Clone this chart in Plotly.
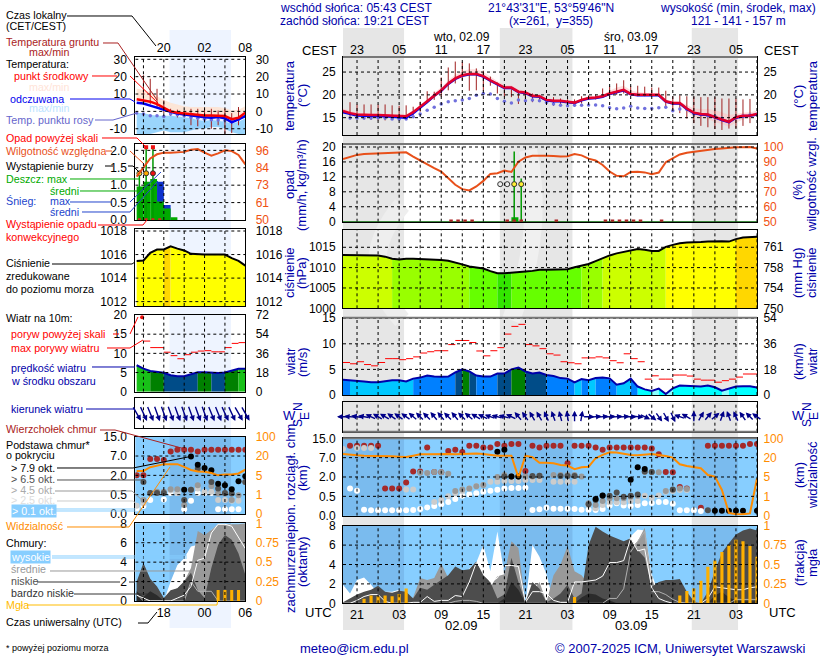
import numpy as np
import plotly.graph_objects as go

N = None
W, H = 820, 660
NAVY = "#0000AA"
SKY = "#87CEFF"
FONT = "Liberation Sans"
LABEL_SIZE = 10.7

# godziny UTC liczone od 00 UTC 02.09
hours = list(range(-5, 55))
hours_l = list(range(14, 31))
ticks_m = list(range(-3, 55, 6))
grid_m = list(range(-3, 55, 3))
ticks_l = [18, 24, 30]
grid_l = [15, 18, 21, 24, 27]
lt_m = ["23", "05", "11", "17", "23", "05", "11", "17", "23", "05"]
utc_m = ["21", "03", "09", "15", "21", "03", "09", "15", "21", "03"]
night_m = [(-5, 3.7), (17.35, 27.7), (44.7, 51.3)]
night_l = [(18.84, 27.9)]

# temperatura
t_mid = [16.5, 16.0, 15.7, 15.6, 15.6, 15.6, 15.5, 15.4, 15.3, 15.3,
         16.2, 17.4, 18.6, 20.0, 21.0, 22.5, 23.6, 24.3, 24.6, 24.6,
         24.1, 23.2, 22.4, 21.6, 21.6, 20.7, 20.5, 19.8, 19.7, 18.9,
         18.7, 18.7, 18.5, 18.3, 18.9, 19.3, 19.4, 19.7, 20.3, 20.7,
         21.1, 20.2, 20.0, 20.0, 20.0, 20.0, 18.6, 18.2, 18.2, 17.0,
         16.1, 15.8, 15.7, 15.1, 14.6, 14.1, 15.1, 15.4, 15.5, 15.8]
t_app = [16.2, 15.8, 15.5, 15.4, 15.4, 15.3, 15.3, 15.2, 15.1, 15.0,
         16.0, 17.1, 18.4, 19.8, 20.9, 22.4, 23.5, 24.2, 24.5, 24.5,
         24.0, 23.1, 22.3, 21.5, 21.5, 20.6, 20.4, 19.7, 19.6, 18.8,
         18.6, 18.6, 18.4, 18.2, 18.8, 19.2, 19.3, 19.6, 20.2, 20.6,
         21.0, 20.1, 19.9, 19.9, 19.9, 19.9, 18.5, 18.1, 18.1, 16.9,
         16.0, 15.7, 15.6, 15.0, 14.5, 14.0, 15.0, 15.3, 15.4, 15.7]
t_max = [17, 16.5, 16, 16, 15.9, 15.9, 15.8, 15.7, 15.7, 15.7,
         16.6, 17.7, 19, 20.5, 21.6, 23.2, 24.4, 25.2, 25.6, 25.6,
         25, 24, 23, 22.2, 22.1, 21.2, 20.9, 20.2, 20.1, 19.3,
         19, 19, 18.8, 18.6, 19.2, 19.6, 19.7, 20.1, 20.9, 21.6,
         22, 21, 20.6, 20.4, 20.3, 20.3, 19, 18.6, 18.5, 17.8,
         17, 16.9, 16.9, 16.6, 16.2, 15.6, 15.9, 16.1, 16.2, 16.5]
t_min = [16.1, 15.6, 15.3, 15.2, 15.2, 15.2, 15.1, 15, 14.9, 14.9,
         15.9, 17.1, 18.3, 19.7, 20.6, 22.1, 23.1, 23.8, 24.2, 24.2,
         23.7, 22.9, 22.1, 21.3, 21.2, 20.4, 20.2, 19.5, 19.4, 18.6,
         18.4, 18.4, 18.2, 18, 18.6, 19, 19.1, 19.4, 20, 20.3,
         20.6, 19.9, 19.7, 19.7, 19.7, 19.7, 18.3, 17.8, 17.8, 16.3,
         15.2, 14.9, 14.7, 14, 13.6, 13, 13.9, 14.6, 14.9, 15.3]
t_dew = [N, 14.9, 14.9, 14.9, 14.9, 15.0, 14.9, 14.7, 14.7, 14.7,
         15.2, 15.8, 16.6, 17.3, 18.0, 18.5, 18.7, 18.9, 19.2, 19.9,
         20.3, 20.2, 19.2, 18.6, 18.2, 18.9, 18.7, 18.9, 18.7, 18.3,
         18.0, 17.7, 17.6, 17.7, 17.7, 17.8, 17.8, 17.6, 17.2, 16.95,
         17.1, 17.5, 17.1, 17.0, 17.0, 17.2, 17.3, 16.5, 16.9, 16.85,
         15.8, 15.7, 15.4, 15.3, 14.85, 14.1, 15.1, 15.4, 15.6, 15.8]
g_max = [N, 18.4, 17.9, 17.9, 17.9, 17.9, 17.9, 17.7, 17.6, 17.7,
         17.4, 18.5, 20.8, 20.7, 23.8, 26, 27.3, 27.2, 26.9, 25.8,
         25.3, 24, 22.7, 21.9, 21.2, 20.6, 20.9, 20.3, 20, 19.6,
         19.5, 19.2, 19, 19, 19.7, 19.9, 20.1, 21.4, 21.9, 22.5,
         23.2, 21.9, 22, 21.8, 21.6, 21.6, 20.9, 19.7, 19.9, 19.7,
         19.6, 19.5, 19.5, 19.5, 19.2, 19.2, 19.2, 19, 19.1, N]
g_min = [N, 14.6, 14.6, 14.6, 14.5, 14.4, 14.4, 14.5, 14.5, 14.5,
         15.6, 16.3, 18.6, 18.9, 19.6, 21, 22.5, 23.2, 20.9, 21,
         20.9, 22, 20.3, 19.6, 19.5, 18, 18.9, 18.4, 18.9, 17.8,
         17.6, 18, 18, 17.4, 18.1, 18.9, 19, 19.5, 19.6, 20,
         20.3, 20, 19.7, 19.7, 19.7, 19.6, 17.4, 16.7, 16, 14.8,
         13.8, 13.2, 12.9, 12.5, 12.3, 12.6, 12.7, 13.2, 13.8, N]

t_mid_l = [7.0, 6.5, 5.6, 4.2, 1.9, 0.0, -0.8, -1.2, -1.9, -2.1, -2.3, -2.3, -2.5, -2.7, -4.5, -3.7, -0.8]
t_app_l = [5.0, 4.5, 3.3, 2.0, 0.7, -0.2, -1.3, -1.8, -2.6, -3.0, -3.4, -3.6, -3.3, -3.9, -6.3, -4.6, -2.7]
t_max_l = [13, 12.5, 11, 8.6, 6.5, 5, 4, 3, 2.5, 2.5, 2.5, 2.5, 2.5, 2, 0.5, 1, 3]
t_app_max_l = [-1, -1, -2, -2.5, -2.5, -2.5, -3, -3.5, -4, -5, -5.5, -5, -5.5, -6, -7, -6, -4]
t_app_min_l = [-13.2, -13.2, -13, -12, -11, -12, -12, -12, -11, -10, -10, -9, -9, -10, -12, -13, -13]
t_dew_l = [-1, -1.5, -2.5, -2.5, -3, -1.5, -2, -2.5, -3.5, -4, -4.5, -4.8, -5, -5.2, -5.8, -4.5, -2.8]
g_max_l = [N, 20.8, 18.8, 13, 6.3, 1.5, 1, 0.5, 1.5, 1.5, 1.5, 1.5, 0.5, 1.5, -1, 2.5, 0]
g_min_l = [N, 6, 4, 2.5, -1, -2.5, -3.5, -3.5, -8, -8.6, -6.3, -10, -8, -12.9, -12.5, -8, -1.5]

# opad i wilgotność
rh = [92, 93.6, 94.7, 95.3, 95.5, 95.8, 95.8, 96, 96.2, 96.4,
      93.6, 90.9, 88, 85.8, 83.6, 79, 74.7, 71.8, 70.9, 73.6,
      77.3, 82, 82.4, 84.2, 83.3, 90.2, 93, 94.2, 94.4, 94.2,
      94, 93.6, 93.8, 95.3, 94.4, 92.2, 91, 88, 83.6, 80.7,
      80.4, 83.3, 83.5, 83, 81.8, 82.9, 89.8, 92.4, 95, 96.2,
      96.9, 97.6, 98, 98.7, 99, 99.6, 99.8, 99.8, 100, 99]
rain_h = [19.5]
rain_val = [1.2]
rain_max_h = [19.4, 20.4]
rain_max_val = [18.7, 11.5]
storm_h = [17.4, 18.4, 19.4, 20.4]
storm_val = [10, 10, 10, 10]
storm_col = ["#EEEEEE", "#EEEEEE", "#FFEE33", "#FFEE33"]
conv_h = [10.4, 11.4, 12.4, 13.4, 18.4, 19.4, 20.4, 25.4, 32.4, 33.4, 34.4, 35.4, 36.4, 37.4, 40.4]

rh_l = [78.6, 84.4, 90.7, 93.4, 94.5, 94.5, 94.5, 95, 96.4, 96.9, 94.5, 92.5, 94, 96, 95.5, 93, 86.8]
rain_h_l = [14.5, 15.5, 16.5, 17.5, 18.5, 19.5]
rain_val_l = [0.96, 1.1, 1.18, 0.53, 0.33, 0.08]
snow_val_l = [0, 0, 0, 1.1, 0.43, 0]
spike_h_l = [14.4, 15.4, 16.4]
spike_val_l = [1.34, 2.05, 2.05]
over_h_l = [15.4, 16.4]
over_val_l = [2.09, 2.09]
storm_val_l = [1.34, 1.34, 1.34]
storm_col_l = ["#FFEE33", "#FFAA00", "#EE1111"]
conv_h_l = [14.4, 15.4, 16.4, 17.4]

# ciśnienie
press = [1013.1, 1013.1, 1013.1, 1013.05, 1013.05, 1013, 1012.7, 1012.2, 1012, 1012.2,
         1012.2, 1012.15, 1012, 1012, 1011.9, 1011.7, 1011.3, 1010.8, 1010.3, 1010.1,
         1009.8, 1009.15, 1008.6, 1008.6, 1008.7, 1008.9, 1009.05, 1009.2, 1009.5, 1009.5,
         1009.5, 1009.5, 1009.6, 1010.1, 1010.5, 1010.9, 1011.6, 1012.3, 1013, 1013.5,
         1013.9, 1014.3, 1014.6, 1014.4, 1014.1, 1014.1, 1015.1, 1015.6, 1016, 1016.2,
         1016.2, 1016.3, 1016.4, 1016.5, 1016.5, 1016.4, 1017, 1017.4, 1017.5, 1017.6]
press_l = [1015.46, 1015.5, 1016.14, 1016.43, 1016.43, 1016.7, 1016.5, 1016.35, 1016.06,
           1016, 1016, 1016, 1016, 1016, 1015.7, 1015.46, 1015.06]
press_bins = [1008.65, 1010.4, 1012.25, 1015, 1016.6]
press_cols = ["#33E600", "#66FF00", "#99FF00", "#CCFF00", "#FFFF00", "#FFD700"]

# wiatr
wind = [3.0, 2.9, 2.85, 2.65, 2.5, 2.5, 2.7, 2.9, 2.9, 2.65,
        3.2, 3.4, 3.8, 3.6, 3.55, 3.6, 4.4, 5.0, 4.6, 3.8,
        3.6, 3.6, 4.2, 4.2, 5.0, 5.35, 4.6, 4.2, 4.4, 3.9,
        3.7, 3.3, 3.2, 2.45, 3.1, 2.9, 3.3, 3.4, 3.25, 2.0,
        2.3, 3.2, 1.65, 1.1, 0.8, 1.25, 0.2, 1.3, 1.85, 1.8,
        1.65, 1.65, 1.85, 1.5, 0.85, 1.2, 1.65, 1.7, 1.7, 1.45]
gust = [6.35, 6.1, 6.5, 5.95, 5.7, 6.35, 7.1, 7.1, 6.9, 7.1,
        7.45, 8.2, 8.45, 8.65, 8.65, 9.85, 10.65, 10.65, 10.25, 8.6,
        7.65, 8.65, 9.25, 11.9, 13.4, 13.8, 9.85, 9.6, 9.05, 8.05,
        7.8, 6.5, 6.3, 6.1, 7.25, 7.25, 7.45, 7.25, 6.7, 6.3,
        8.05, 7.1, 6.5, 3.1, 3.75, 3.1, 3.1, 3.9, 3.9, 3.7,
        3.1, 2.9, 2.9, 2.5, 2.8, 3.1, 3.5, 4.1, 4.1]
wind_l = [6.9, 6.0, 5.4, 5.2, 4.95, 4.3, 4.05, 4.05, 4.5, 5.05, 5.05, 4.9, 4.9, 5.0, 5.4, 6.0, 6.0]
gust_l = [N, 13.2, 11.5, 11.5, 10.3, 9.4, 8.6, 9.65, 10.3, 10.6, 10.7, 10.4, 10.4, 11.5, 12.6, 12.8]
gust_over_h = [14.8]
gust_over_val = [19.4]
wind_bins = [1, 2, 3, 4, 5, 6]
wind_cols = ["#88FFFF", "#00FFFF", "#00C8FF", "#0080FF", "#004C88", "#008000", "#18C018"]
wind_dir = [270, 275, 280, 280, 295, 300, 300, 305, 305, 305,
            310, 315, 315, 320, 320, 315, 320, 315, 310, 300,
            295, 290, 285, 285, 295, 320, 325, 330, 330, 335,
            340, 345, 350, 0, 10, 90, 85, 85, 85, 85,
            85, 90, 95, 115, 130, 145, 150, 155, 290, 300,
            0, 30, 40, 50, 20, 340, 335, 325, 315, 305]
wind_dir_l = [150, 155, 158, 160, 160, 160, 160, 160, 160, 160, 160, 158, 158, 155, 155, 150, 150]

# podstawa chmur: pozycja na osi nieliniowej 0=0, 1=0.5, 2=2, 3=7, 4=15 km
cb_top = [N, 3.62, 3.62, 3.62, 3.62, 3.62, 1.4, 1.4, 1.4, 1.72,
          2.29, 2.29, 3.53, 2.26, 2.24, 3.34, 3.41, 3.29, 3.62, 3.62,
          3.53, 3.53, 3.71, 3.62, 3.71, 3.71, 2.31, 3.62, 3.53, 3.62,
          3.62, 3.62, 2.71, 3.62, 3.62, 3.62, 3.53, 3.41, 3.53, 3.53,
          3.53, 3.53, 3.53, 3.53, 3.47, 3.17, 2.26, 2.24, 1.48, 1.41,
          N, 0.41, 3.62, 3.62, 3.62, 3.62, 3.62, 3.62, 3.71, 3.71]
cb_01 = [N, 1.41, 1.29, .31, .28, .28, .28, .28, .28, .28,
         .29, .34, .43, .5, .59, .71, .86, 1.03, 1.1, 1.16,
         1.24, 1.29, 1.34, 1.41, 1.43, 1.43, 1.45, .29, .33, .41,
         .36, .36, .36, .34, .31, .31, .29, .34, .53, .64,
         .53, .5, .55, .64, .66, .71, .71, .62, .28, .28,
         .28, .24, N, N, N, N, N, N, N, N]
cb_25 = [3.45, N, 3.5, 3.5, 3.5, N, N, N, N, 1.36,
         1.36, N, N, .71, .81, 1, 1.16, 1.28, 1.41, 1.52,
         1.59, 1.76, 1.76, 1.79, 1.79, 1.79, 1.84, 1.84, 1.84, N,
         1.76, 1.76, 1.76, 1.76, N, .55, .38, .55, .69, .69,
         .69, .76, .76, 1.03, .93, 1.05, 1.24, 1.28, 1.33, 1.33,
         N, N, N, N, N, N, N, N, N, N]
cb_45 = [N, N, N, N, N, N, N, N, N, N,
         N, 2.22, 2.21, 2.26, 2.24, 2.17, 1.28, 1.36, 1.41, 1.52,
         1.59, N, 2, 2.1, 2.02, 2.02, 2.02, 2.02, 2.07, N,
         2.1, 2.1, 2.1, 2.1, 2.02, .64, .55, .76, .9, .9,
         .9, .98, 1.03, 2.26, 2.26, 2.24, 1.28, 1.33, 1.41, 1.38,
         N, N, N, N, N, N, N, N, N, N]
cb_65_h = [18, 19, 20, 22, 23, 26, 27, 28, 30, 31, 32, 33, 34, 35, 36, 37, 38, 39, 42, 47]
cb_65 = [2.02, 2.02, 2.02, 2.05, 2.07, 2.05, 2.05, 2.05, .59, .81, 1.03, 1.03, 1.2, .98, 1.03, 1.1, 2.28, 2.26, 1.36, .28]
cb_79_h = [17, 18, 19, 20, 31, 32, 36, 37, 38, 48, 49, 50, 51, 52, 54]
cb_79 = [3.3, 3.41, 2.02, 2.02, .86, 1.05, 1.86, 2.5, 2.41, .26, .26, .26, .26, .26, .26]
vis = [3.19, 3.14, 3.12, 3.1, 3.1, 3.1, 3.1, 3.07, 3.05, 3.03,
       3.1, 3.17, 3.18, 3.19, 3.19, 3.19, 3.17, 3.19, 3.22, 3.22,
       3.19, 3.14, 3.1, 3.1, 3.1, 1.97, 3.1, 3.02, 2.74, 2.74,
       2.71, 2.62, 2.59, 2.4, 2.5, 2.53, 2.97, 3.14, 3.28, 3.26,
       3.19, 3.14, 3.12, 3.14, 3.19, 3.14, 3.09, 3.0, 2.66, 2.57,
       2.5, 2.45, 2.1, 2.02, 1.33, .14, .07, .07, .12, 1.93]

cb_top_l = [2, 2, 2.85, 2.85, 2.8, 3.23, 3.33, 3.33, 3.33, 3.23, 3.33, 3.33, 3.33, 3.33, 3.33, 3.33, 3.33]
cb_79_l = [N, N, N, N, N, N, N, 1.26, 2.97, 2.55, 2.38, 2.26, 1.57, 1.49, 1.28, 1.69, 1.95]
cb_65_l = [N, 1.66, 1.09, 1.09, 1.09, N, N, .72, 1.26, 2.34, N, 1.66, 1.32, 1.09, 1.06, N, 1.66]
cb_45_l = [N, .72, 1.09, 1.15, 1.15, 1.28, 1.28, .46, 1.26, 1.49, N, 1.45, 1.06, 1.06, .72, .97, 1.66]
cb_25_l = [.43, .55, N, N, N, 1.23, 1.09, N, N, 1.32, 1.15, 1.15, .72, .72, .68, .68, N]
cb_01_l = [.29, .41, .72, N, .75, 1.09, 1.09, .24, .68, 1.09, 1.09, 1.09, .24, .24, .24, .24, N]
vis_l = [2.22, 2.22, 2.42, 2.5, 2.58, 2.58, 2.58, 2.44, 2.28, 2.2, 2.18, 2.12, 2.0, 2.05, 2.05, 2.1, 2.29]

# zachmurzenie (oktanty) i mgła
cl_high = [1.9, 1.0, 2.4, 2.65, 1.9, 1.0, 1.2, 1.2, 1.4, 0.5,
           0.15, 0.1, 0.1, 0.1, 0.1, 0.3, 0.5, 0.5, 3.6, 4.2,
           6.0, 3.3, 7.4, 3.0, 1.0, 0.5, 0.0, 6.0, 4.8, 3.0,
           0.1, 0.1, 0.1, 0.1, 0.1, 0.1, 0.1, 0.1, 0.1, 5.0,
           5.6, 6.9, 7.6, 7.5, 3.0, 1.0, 0, 0, 0, 0,
           0, 0, 0, 0, 0, 0, 0, 0, 0, 0]
cl_mid = [0, 0, 0, 0, 0, 0, 0, 0, 0, 0.3,
          0.6, 2.6, 2.4, 2.6, 4.1, 2.6, 2.2, 2.0, 1.5, 1.0,
          1.0, 1.7, 2.8, 3.0, 6.4, 5.7, 0.1, 1.2, 2.2, 0.1,
          2.9, 4.0, 5.9, 3.3, 2.9, 2.0, 1.0, 1.0, 1.0, 2.9,
          4.6, 5.7, 6.4, 7.8, 2.6, 0.5, 0, 0, 0, 0,
          0, 0, 0, 0, 0, 0, 0, 0, 0, 0]
cl_low = [0.1, 0.5, 0.9, 1.2, 1.4, 1.8, 1.2, 1.1, 1.3, 1.2,
          0.5, 1.6, 1.4, 1.9, 2.4, 2.9, 3.8, 3.4, 3.5, 4.3,
          2.9, 2.2, 0.5, 0.9, 4.7, 2.2, 0.1, 2.2, 1.5, 0.1,
          0.5, 1.0, 1.9, 0.5, 1.0, 6.0, 7.9, 7.4, 7.0, 6.7,
          6.4, 6.7, 5.5, 4.7, 1.7, 2.2, 2.4, 2.4, 2.5, 1.2,
          0.2, 0, 1.2, 3.3, 5.2, 6.2, 7.1, 7.5, 7.7, 7.5]
cl_vlow = [0, 0, 0, 0, 0, 0, 0, 0, 0, 0,
           0, 0, 0, 0, 0, 0, 0, 0, 0, 0,
           0, 0, 0, 0.5, 2.2, 1.4, 0, 0, 0, 0,
           0, 0, 0, 0, 0.6, 1.0, 0.9, 0.5, 0.3, 0,
           0, 0, 0, 0, 0, 0, 0, 0, 0, 0,
           0, 0, 0, 0.8, 1.2, 0.6, 0.3, 0.2, 0.2, 0.2]
ln_high = [0, 0, 0.3, 0.7, 0.9, 0.9, 0.2, 0, 0, 0,
           0.1, 0.1, 0.7, 0.2, 0.3, 0.3, 0.8, 0.7, 2.2, 4.2,
           3.3, 2.2, 2.6, 3.9, 3.9, 3.8, 0.1, 1.2, 1.2, 1.0,
           0.3, 0.1, 0.1, 2.2, 2.2, 2.3, 2.4, 2.8, 4.2, 4.2,
           4.4, 6.7, 5.4, 5.6, 1.6, 0.5, 0.2, 0, 0, 0,
           0, 0, 0.5, 1.7, 1.6, 1.5, 1.4, 1.4, 1.6, 1.7]
ln_mid = [0, 0, 0, 0, 0, 0, 0, 0, 0, 0,
          0, 0, 0, 0, 0, 0, 0.2, 0.3, 0.3, 0.2,
          0, 0, 0, 0, 0, 0, 0, 0, 0, 0,
          0, 0, 0, 0, 0, 0, 0, 0, 0.5, 0.5,
          1.5, 5.3, 6.4, 7.4, 1.2, 1.2, 0.9, 0.4, 0.1, 0,
          0, 0, 0, 0, 0, 0, 0.4, 0.4, 0.4, 0.4]
fog_h = [-2, -1, 0, 1, 2, 3, 4, 28, 43, 44, 45, 46, 47, 48, 49, 50, 51, 52, 53, 54]
fog = [.06, .1, .09, .1, .09, .12, .19, .08, .1, .16, .19, .29, .47, .55, .66, .75, .82, .8, .74, .6]

cl_high_l = [0, 0, 0, 0, 0, 2, 3.7, 4.4, 5.6, 5.8, 6.1, 7.3, 7.9, 7.9, 7.9, 6.8, 6.0]
cl_mid_l = [0, 0, 0, 0, 0, 1, 1.3, 2, 3.4, 7.2, 6.8, 7.3, 7.9, 7.9, 7.9, 7.9, 8]
cl_low_l = [2, 3.9, 2.3, 1.5, .3, 1.1, 1.3, 2, 2.9, 1.1, .3, 3.4, 5.8, 6.8, 6.3, 4.9, 2.7]
cl_vlow_l = [1, .4, 1, .6, 0, 0, 0, 0, 0, 0, 0, 0, 0, 0, 0, 0, 0]
ln_high_l = [.6, .3, 0, 0, 0, 0, .3, .6, 1.5, 4.2, 4.4, 7.0, 7.9, 7.9, 7.7, 6.6, 5.4]
ln_mid_l = [.7, 0, 0, 0, 0, 0, 0, 0, 2, 1, 1, 1, 0, 0, 0, 0, 0]
fog_h_l = [26, 27, 28, 29]
fog_l = [.14, .14, .14, .14]

# opisy: (tekst, x, y, kolor)
labels_left = [
    ("Czas lokalny", 5, 15, "#000000"), ("(CET/CEST)", 5, 26, "#000000"),
    ("Temperatura gruntu", 5, 42, "#AA2222"), ("max/min", 28, 52, "#AA2222"),
    ("Temperatura:", 5, 64, "#000000"), ("punkt środkowy", 13, 76, "#FF0000"),
    ("max/min", 28, 87, "#FFE4D8"), ("odczuwana", 9, 99, "#0000EE"),
    ("max/min", 28, 108, "#BBE4FF"), ("Temp. punktu rosy", 5, 120, "#6666CC"),
    ("Opad powyżej skali", 5, 138, "#FF0000"), ("Wilgotność względna", 5, 151, "#E8501A"),
    ("Wystąpienie burzy", 5, 166, "#000000"), ("Deszcz: max", 5, 179, "#00AA00"),
    ("średni", 49, 191, "#00AA00"), ("Śnieg:", 5, 201, "#2244CC"), ("max", 49, 201, "#2244CC"),
    ("średni", 49, 212, "#2244CC"), ("Wystąpienie opadu", 5, 224, "#FF0000"),
    ("konwekcyjnego", 5, 237, "#FF0000"), ("Ciśnienie", 5, 263, "#000000"),
    ("zredukowane", 5, 276, "#000000"), ("do poziomu morza", 5, 289, "#000000"),
    ("Wiatr na 10m:", 5, 318, "#000000"), ("poryw powyżej skali", 10, 334, "#FF0000"),
    ("max porywy wiatru", 10, 348, "#FF0000"), ("prędkość wiatru", 10, 368, NAVY),
    ("w środku obszaru", 10, 381, NAVY), ("kierunek wiatru", 10, 409, NAVY),
    ("Wierzchołek chmur", 5, 429, "#AA2222"), ("Podstawa chmur*", 5, 445, "#000000"),
    ("o pokryciu", 5, 455, "#000000"), ("> 7.9 okt.", 10, 468, "#000000"),
    ("> 6.5 okt.", 10, 479, "#505050"), ("> 4.5 okt.", 10, 490, "#AAAAAA"),
    ("> 2.5 okt.", 10, 500, "#DDDDDD"), ("Widzialność", 5, 526, "#FF8C00"),
    ("Chmury:", 5, 543, "#000000"), ("średnie", 10, 569, "#999999"),
    ("niskie", 10, 581, "#505050"), ("bardzo niskie", 10, 593, "#333333"),
    ("Mgła", 5, 605, "#FFBB00"), ("Czas uniwersalny (UTC)", 5, 622, "#000000"),
]
labels_box = [("> 0.1 okt.", 11, 511), ("wysokie", 10, 557)]
# linie odniesienia: (kolor, [(x, y), ...])
leaders = [
    ("#000000", [(67, 16), (132, 16), (156, 46)]),
    ("#AA2222", [(103, 43), (118, 43), (157, 100)]),
    ("#FF0000", [(92, 76), (117, 76)]),
    ("#FF0000", [(130, 76), (158, 103)]),
    ("#0000EE", [(70, 99), (130, 99), (135, 102)]),
    ("#6666CC", [(95, 120), (113, 120), (137, 113)]),
    ("#FF0000", [(102, 138), (137, 138), (146, 147)]),
    ("#E8501A", [(106, 151), (112, 151)]),
    ("#E8501A", [(130, 151), (143, 163)]),
    ("#000000", [(105, 166), (113, 166)]),
    ("#000000", [(128, 166), (133, 166), (139, 172)]),
    ("#00AA00", [(70, 179), (140, 179)]),
    ("#00AA00", [(80, 191), (143, 191)]),
    ("#2244CC", [(70, 202), (112, 202)]),
    ("#2244CC", [(130, 202), (161, 172)]),
    ("#2244CC", [(82, 212), (130, 212), (158, 181)]),
    ("#FF0000", [(98, 225), (143, 225), (147, 220)]),
    ("#000000", [(52, 264), (132, 264), (135, 262)]),
    ("#FF0000", [(113, 334), (119, 334)]),
    ("#FF0000", [(130, 334), (138, 317)]),
    ("#FF0000", [(107, 348), (130, 348), (143, 340)]),
    (NAVY, [(92, 367), (135, 367)]),
    (NAVY, [(86, 409), (135, 409)]),
    ("#AA2222", [(100, 430), (115, 430), (185, 449)]),
    ("#000000", [(57, 468), (133, 468), (193, 456)]),
    ("#505050", [(57, 480), (143, 480)]),
    ("#999999", [(55, 491), (132, 491), (142, 500)]),
    ("#CCCCCC", [(57, 501), (133, 501), (138, 505)]),
    (SKY, [(55, 509), (135, 509)]),
    (SKY, [(55, 511), (135, 511)]),
    ("#FF8C00", [(67, 527), (129, 527), (170, 467)]),
    (SKY, [(52, 556), (187, 556)]),
    (SKY, [(52, 558), (187, 558)]),
    ("#999999", [(50, 571), (193, 571)]),
    ("#333333", [(37, 582), (120, 582)]),
    ("#333333", [(129, 582), (135, 582)]),
    ("#333333", [(74, 594), (147, 594)]),
    ("#FFBB00", [(27, 605), (217, 605), (218, 598)]),
    ("#000000", [(138, 623), (148, 623), (157, 612)]),
]
# podpisy osi głównej kolumny: (tekst, x, y_środek)
axis_titles = [
    ("temperatura", 289, 96), ("(°C)", 302, 96), ("(°C)", 798, 97), ("temperatura", 812, 96),
    ("opad", 290, 185), ("(mm/h, kg/m³/h)", 302, 185), ("(%)", 798, 190), ("wilgotność wzgl.", 812, 185),
    ("ciśnienie", 290, 273), ("(hPa)", 302, 273), ("(mm Hg)", 798, 273), ("ciśnienie", 812, 273),
    ("wiatr", 290, 362), ("(m/s)", 302, 362), ("(km/h)", 798, 362), ("wiatr", 812, 362),
    ("pion. rozciągł. chm.", 290, 476), ("(km)", 302, 478), ("(km)", 799, 475), ("widzialność", 812, 475),
    ("zachmurzenie", 290, 573), ("(oktanty)", 302, 562), ("(frakcja)", 799, 563), ("mgła", 812, 563),
]
# znak wodny ICM w tle: (kolor, ścieżka w pikselach)
watermark = [
    ("#EEEEEE", [(402, 205), (352, 265), (402, 320)]),
    ("#F0F0F0", [(528, 150), (545, 230), (511, 320)]),
]
# ciemniejsze krawędzie ramek głównej kolumny: (y, grubość)
frame_edges = [(57, 2), (144, 2), (317.7, 2), (431.7, 2), (438.3, 2)]


def px(x):
    return x / W


def py(y):
    return 1 - y / H


fig = go.Figure()
shapes = []
annots = []
layout_axes = {}
panel_count = 0


def text(s, x, y, color="#000000", anchor="left", size=12, angle=0, bg=None):
    annots.append(dict(text=s, x=px(x), y=py(y), xref="paper", yref="paper", showarrow=False,
                       xanchor=anchor, yanchor="middle", textangle=angle, borderpad=0,
                       font=dict(family=FONT, size=size, color=color), bgcolor=bg))


def add_panel(xpx, ypx, xrange, yrange, yticks, ylabels, rticks, rlabels, rrange=None,
              rcolor="#000000", xgrid=(), xticks=None, xlabels=None, xside="bottom",
              gap_l=4, gap_r=3, standoff=0):
    global panel_count
    panel_count += 1
    k = panel_count
    xn, yl, yr = f"x{k}", f"y{2 * k - 1}", f"y{2 * k}"
    dom_x = [px(xpx[0]), px(xpx[1])]
    dom_y = [py(ypx[1]), py(ypx[0])]
    tick_font = dict(family=FONT, size=12, color="#000000")
    layout_axes[f"xaxis{k}"] = dict(
        domain=dom_x, range=xrange, anchor=yl, side=xside, showgrid=False, zeroline=False,
        showline=True, mirror=True, linecolor="#000000", linewidth=1,
        tickmode="array", tickvals=xticks or [], ticktext=xlabels or [],
        showticklabels=bool(xticks), ticks="", tickfont=dict(family=FONT, size=12.5, color="#000000"),
        ticklabelstandoff=standoff, fixedrange=True, layer="above traces")
    layout_axes[f"yaxis{2 * k - 1}"] = dict(
        domain=dom_y, range=yrange, anchor=xn, side="left", showgrid=False, zeroline=False,
        showline=True, mirror=True, linecolor="#000000", linewidth=1,
        tickmode="array", tickvals=yticks, ticktext=ylabels, ticks="outside", ticklen=gap_l,
        tickcolor="rgba(0,0,0,0)", tickfont=tick_font, fixedrange=True, layer="above traces")
    layout_axes[f"yaxis{2 * k}"] = dict(
        domain=dom_y, range=rrange or yrange, anchor=xn, overlaying=yl, side="right",
        showgrid=False, zeroline=False, showline=False,
        tickmode="array", tickvals=rticks, ticktext=rlabels, ticks="outside", ticklen=gap_r,
        tickcolor="rgba(0,0,0,0)", tickfont=dict(family=FONT, size=12, color=rcolor), fixedrange=True)
    rr = rrange or yrange
    return dict(x=xn, yl=yl, yr=yr, xrange=xrange, rrange=rr, rticks=rticks, xgrid=list(xgrid), xpx=xpx, ypx=ypx)


def add(p, trace, right=False):
    trace.update(xaxis=p["x"], yaxis=p["yr"] if right else p["yl"], showlegend=False, hoverinfo="skip")
    fig.add_trace(trace)


def draw_grid(p):
    # siatka na osi prawej, żeby leżała nad wypełnieniami
    gx, gy = [], []
    lo, hi = p["rrange"]
    for v in p["xgrid"]:
        gx += [v, v, N]
        gy += [lo, hi, N]
    for v in p["rticks"]:
        if lo < v < hi:
            gx += [p["xrange"][0], p["xrange"][1], N]
            gy += [v, v, N]
    add(p, go.Scatter(x=gx, y=gy, mode="lines", line=dict(color="#000000", width=1, dash="3px,3px")), right=True)


def fill_runs(p, xs, ys, base, bins, cols, use_end=False):
    # wypełnienie kolumnami, kolor wg przedziału wartości
    idx = np.digitize(ys[1:] if use_end else ys[:-1], bins)
    i = 0
    while i < len(idx):
        j = i
        while j + 1 < len(idx) and idx[j + 1] == idx[i]:
            j += 1
        seg_x = list(xs[i:j + 2])
        seg_y = list(ys[i:j + 2])
        add(p, go.Scatter(x=seg_x + seg_x[::-1], y=seg_y + [base] * len(seg_x), mode="lines",
                          fill="toself", fillcolor=cols[idx[i]], line=dict(width=0)))
        i = j + 1


def vbars(xs, lo, hi):
    bx, by = [], []
    for x0, a, b in zip(xs, lo, hi):
        if a is not None and b is not None:
            bx += [x0, x0, N]
            by += [a, b, N]
    return bx, by


def steps(xs, vals):
    sx, sy = [], []
    for x0, v in zip(xs, vals):
        if v is not None:
            sx += [x0, x0 + 1, N]
            sy += [v, v, N]
    return sx, sy


def wind_arrows(p, xs, dirs, length, center=0.5):
    for x0, d in zip(xs, dirs):
        dx = length * np.sin(np.radians(d))
        dy = -length * np.cos(np.radians(d))
        annots.append(dict(x=x0, y=center, xref=p["x"], yref=p["yl"], text="", showarrow=True,
                           ax=float(-dx), ay=float(-dy), axref="pixel", ayref="pixel",
                           xshift=float(dx / 2), yshift=float(-dy / 2), arrowhead=2, arrowsize=0.8,
                           arrowwidth=1.4, arrowcolor="#000088", standoff=0, startstandoff=0))


def sky_panel(p, night):
    x0, x1 = p["xpx"]
    y0, y1 = p["ypx"]
    shapes.append(dict(type="rect", xref="paper", yref="paper", x0=px(x0), x1=px(x1), y0=py(y1), y1=py(y0),
                       fillcolor=SKY, line=dict(width=0), layer="below"))
    for a, b in night:
        shapes.append(dict(type="rect", xref=p["x"], yref="paper", x0=max(a, p["xrange"][0]), x1=b, y0=py(y1), y1=py(y0),
                           fillcolor="#7ABBEE", line=dict(width=0), layer="below"))


# pasma dnia i nocy pod wszystkimi panelami
main_rng = [-5, 54]
left_rng = [13.8, 30]
MX = (343, 757)
LX = (135.3, 245.3)
LG = dict(gap_l=5, gap_r=7)

p_t = add_panel(MX, (57, 135), main_rng, [11.2, 28.3], [15, 20, 25], ["15", "20", "25"], [15, 20, 25], ["15", "20", "25"],
                xgrid=grid_m, xticks=ticks_m, xlabels=lt_m, xside="top", standoff=-3)
p_r = add_panel(MX, (144, 221.7), main_rng, [0, 20.7], [0, 4, 8, 12, 16, 20], ["0", "4", "8", "12", "16", "20"],
                [50, 60, 70, 80, 90, 100], ["50", "60", "70", "80", "90", "100"], rrange=[50, 102], rcolor="#F05010", xgrid=grid_m)
p_p = add_panel(MX, (230, 308.3), main_rng, [1000, 1019.25], [1000, 1005, 1010, 1015], ["1000", "1005", "1010", "1015"],
                [1000, 1005, 1010, 1015], ["750", "754", "758", "761"], xgrid=grid_m)
p_w = add_panel(MX, (317.7, 395), main_rng, [0, 15.1], [0, 5, 10, 15], ["0", "5", "10", "15"],
                [0, 5, 10, 15], ["0", "18", "36", "54"], xgrid=grid_m)
p_d = add_panel(MX, (401.7, 431.7), main_rng, [0, 1], [], [], [], [], xgrid=grid_m)
p_c = add_panel(MX, (438.3, 515.7), main_rng, [0, 4], [0, 1, 2, 3, 4], ["0.0", "0.5", "2.0", "7.0", "15.0"],
                [0, 1, 2, 3, 4], ["0", "1", "5", "20", "100"], rcolor="#FF8C00", xgrid=grid_m)
p_k = add_panel(MX, (525.7, 603.3), main_rng, [0, 8], [0, 2, 4, 6, 8], ["0", "2", "4", "6", "8"],
                [0, .25, .5, .75, 1], ["0", "0.25", "0.5", "0.75", "1"], rrange=[0, 1], rcolor="#FF8C00",
                xgrid=grid_m, xticks=ticks_m, xlabels=utc_m)

pl_t = add_panel(LX, (56.7, 134.3), left_rng, [-13.2, 31.5], [-10, 0, 10, 20, 30], ["-10", "0", "10", "20", "30"],
                 [-10, 0, 10, 20, 30], ["-10", "0", "10", "20", "30"], xgrid=grid_l, xticks=ticks_l, xlabels=["20", "02", "08"],
                 xside="top", standoff=-1, **LG)
pl_r = add_panel(LX, (143.7, 220), left_rng, [0, 2.19], [0, .5, 1, 1.5, 2], ["0.0", "0.5", "1.0", "1.5", "2.0"],
                 [50, 61.5, 73, 84.5, 96], ["50", "61", "73", "84", "96"], rrange=[50, 100.4], rcolor="#F05010", xgrid=grid_l, **LG)
pl_p = add_panel(LX, (229, 306), left_rng, [1011.63, 1018.17], [1012, 1014, 1016, 1018], ["1012", "1014", "1016", "1018"],
                 [1012, 1014, 1016, 1018], ["1012", "1014", "1016", "1018"], xgrid=grid_l, **LG)
pl_w = add_panel(LX, (315, 391.7), left_rng, [0, 20], [0, 5, 10, 15, 20], ["0", "5", "10", "15", "20"],
                 [0, 5, 10, 15, 20], ["0", "18", "36", "54", "72"], xgrid=grid_l, **LG)
pl_d = add_panel(LX, (398.3, 428.3), left_rng, [0, 1], [], [], [], [], xgrid=grid_l, **LG)
pl_c = add_panel(LX, (436.7, 514), left_rng, [0, 4], [0, 1, 2, 3, 4], ["0.0", "0.5", "2.0", "7.0", "15.0"],
                 [0, 1, 2, 3, 4], ["0", "1", "5", "20", "100"], rcolor="#FF8C00", xgrid=grid_l, **LG)
pl_k = add_panel(LX, (523.3, 601), left_rng, [0, 8], [0, 2, 4, 6, 8], ["0", "2", "4", "6", "8"],
                 [0, .25, .5, .75, 1], ["0", "0.25", "0.5", "0.75", "1"], rrange=[0, 1], rcolor="#FF8C00",
                 xgrid=grid_l, xticks=ticks_l, xlabels=["18", "00", "06"], **LG)

for a, b in night_m:
    shapes.append(dict(type="rect", xref=p_k["x"], yref="paper", x0=a, x1=b, y0=py(630), y1=py(28),
                       fillcolor="#E6E6E6", line=dict(width=0), layer="below"))
for a, b in night_l:
    shapes.append(dict(type="rect", xref=pl_k["x"], yref="paper", x0=a, x1=b, y0=py(628), y1=py(30),
                       fillcolor="#EEF4FF", line=dict(width=0), layer="below"))
for color, pts in watermark:
    (x0, y0), (x1, y1), (x2, y2) = pts
    path = f"M {px(x0):.5f} {py(y0):.5f} Q {px(x1):.5f} {py(y1):.5f} {px(x2):.5f} {py(y2):.5f}"
    shapes.append(dict(type="path", path=path, xref="paper", yref="paper", layer="below",
                       line=dict(color=color, width=18)))
sky_panel(p_c, night_m)
sky_panel(p_k, night_m)
sky_panel(pl_c, night_l)
sky_panel(pl_k, night_l)


def draw_temp(p, h, tmid, tapp, tdew, gmax, gmin, red, width=2.5):
    bx, by = vbars(h, gmin, gmax)
    add(p, go.Scatter(x=bx, y=by, mode="lines", line=dict(color="#A02020", width=1)))
    add(p, go.Scatter(x=h, y=tdew, mode="markers", marker=dict(color="#7070DD", size=3.5)))
    add(p, go.Scatter(x=h, y=tapp, mode="lines", line=dict(color="#0000EE", width=width)))
    add(p, go.Scatter(x=h, y=tmid, mode="lines", line=dict(color=red, width=width)))


# --- temperatura
add(p_t, go.Scatter(x=hours, y=t_max, mode="lines", line=dict(width=0)))
add(p_t, go.Scatter(x=hours, y=t_min, mode="lines", line=dict(width=0), fill="tonexty", fillcolor="rgba(255,190,190,0.5)"))
draw_temp(p_t, hours, t_mid, t_app, t_dew, g_max, g_min, "#E3002C")
add(pl_t, go.Scatter(x=hours_l, y=t_app_max_l, mode="lines", line=dict(width=0)))
add(pl_t, go.Scatter(x=hours_l, y=t_app_min_l, mode="lines", line=dict(width=0), fill="tonexty", fillcolor="rgba(100,190,250,0.65)"))
add(pl_t, go.Scatter(x=hours_l, y=t_max_l, mode="lines", line=dict(width=0)))
add(pl_t, go.Scatter(x=hours_l, y=t_mid_l, mode="lines", line=dict(width=0), fill="tonexty", fillcolor="rgba(255,225,205,0.8)"))
draw_temp(pl_t, hours_l, t_mid_l, t_app_l, t_dew_l, g_max_l, g_min_l, "#F80000")

# --- opad
add(p_r, go.Bar(x=rain_h, y=rain_val, width=1, marker=dict(color="#00AA00", line=dict(width=0))))
add(p_r, go.Scatter(x=main_rng, y=[0.05, 0.05], mode="lines", line=dict(color="#006600", width=1)))
bx, by = vbars(rain_max_h, [0, 0], rain_max_val)
add(p_r, go.Scatter(x=bx, y=by, mode="lines", line=dict(color="#009900", width=1.5)))
add(p_r, go.Scatter(x=conv_h, y=[0.1] * len(conv_h), mode="markers", marker=dict(color="#AA2222", size=3.5, symbol="square")))
add(p_r, go.Scatter(x=storm_h, y=storm_val, mode="markers",
                    marker=dict(color=storm_col, size=5, line=dict(color="#333333", width=1))))
add(p_r, go.Scatter(x=hours, y=rh, mode="lines", line=dict(color="#E8501A", width=2)), right=True)

add(pl_r, go.Bar(x=rain_h_l, y=snow_val_l, width=1, marker=dict(color="#1133CC", line=dict(width=0))))
add(pl_r, go.Bar(x=rain_h_l, y=rain_val_l, width=1, marker=dict(color="#00AA00", line=dict(width=0))))
bx, by = vbars(spike_h_l, [0, 0, 0], spike_val_l)
add(pl_r, go.Scatter(x=bx, y=by, mode="lines", line=dict(color="#009900", width=1.5)))
add(pl_r, go.Scatter(x=over_h_l, y=over_val_l, mode="markers", marker=dict(color="#EE1111", size=4, symbol="square")))
add(pl_r, go.Scatter(x=conv_h_l, y=[0.01] * len(conv_h_l), mode="markers", marker=dict(color="#DD2222", size=3, symbol="square")))
add(pl_r, go.Scatter(x=spike_h_l, y=storm_val_l, mode="markers",
                     marker=dict(color=storm_col_l, size=5, line=dict(color="#333333", width=1))))
add(pl_r, go.Scatter(x=hours_l, y=rh_l, mode="lines", line=dict(color="#E8501A", width=2)), right=True)

# --- ciśnienie
fill_runs(p_p, hours, press, 1000, press_bins, press_cols)
add(p_p, go.Scatter(x=hours, y=press, mode="lines", line=dict(color="#000000", width=2)))
fill_runs(pl_p, hours_l, press_l, 1011.63, press_bins, press_cols, use_end=True)
add(pl_p, go.Scatter(x=hours_l, y=press_l, mode="lines", line=dict(color="#000000", width=2)))

# --- wiatr
fill_runs(p_w, hours, wind, 0, wind_bins, wind_cols)
add(p_w, go.Scatter(x=hours, y=wind, mode="lines", line=dict(color=NAVY, width=2)))
sx, sy = steps(hours, gust)
add(p_w, go.Scatter(x=sx, y=sy, mode="lines", line=dict(color="#FF0000", width=1)))
fill_runs(pl_w, hours_l, wind_l, 0, wind_bins, wind_cols)
add(pl_w, go.Scatter(x=hours_l, y=wind_l, mode="lines", line=dict(color=NAVY, width=2)))
sx, sy = steps(hours_l, gust_l)
add(pl_w, go.Scatter(x=sx, y=sy, mode="lines", line=dict(color="#FF0000", width=1)))
add(pl_w, go.Scatter(x=gust_over_h, y=gust_over_val, mode="markers", marker=dict(color="#EE1111", size=4)))

wind_arrows(p_d, hours, wind_dir, 12)
wind_arrows(pl_d, hours_l, wind_dir_l, 17)


# --- podstawa chmur
def draw_base(p, h, top, lev01, lev25, lev45, h65, lev65, h79, lev79, visib):
    size = 6
    add(p, go.Scatter(x=h, y=top, mode="markers", marker=dict(color="#A52A2A", size=size)))
    add(p, go.Scatter(x=h, y=lev01, mode="markers", marker=dict(color="#FFFFFF", size=size)))
    add(p, go.Scatter(x=h, y=lev25, mode="markers", marker=dict(color="#CCCCCC", size=size)))
    add(p, go.Scatter(x=h, y=lev45, mode="markers", marker=dict(color="#999999", size=size)))
    add(p, go.Scatter(x=h65, y=lev65, mode="markers", marker=dict(color="#505050", size=size)))
    add(p, go.Scatter(x=h79, y=lev79, mode="markers", marker=dict(color="#000000", size=size)))
    add(p, go.Scatter(x=h, y=visib, mode="lines", line=dict(color="#FF8C00", width=2)), right=True)


draw_base(p_c, hours, cb_top, cb_01, cb_25, cb_45, cb_65_h, cb_65, cb_79_h, cb_79, vis)
draw_base(pl_c, hours_l, cb_top_l, cb_01_l, cb_25_l, cb_45_l, hours_l, cb_65_l, hours_l, cb_79_l, vis_l)


# --- zachmurzenie
def draw_cloud(p, h, high, mid, low, vlow, lhigh, lmid, hf, fogv):
    add(p, go.Scatter(x=h, y=high, mode="lines", line=dict(width=0), fill="tozeroy", fillcolor="#FFFFFF"))
    add(p, go.Scatter(x=h, y=mid, mode="lines", line=dict(width=0), fill="tozeroy", fillcolor="#999999"))
    add(p, go.Scatter(x=h, y=low, mode="lines", line=dict(width=0), fill="tozeroy", fillcolor="#4D4D4D"))
    add(p, go.Scatter(x=h, y=vlow, mode="lines", line=dict(width=0), fill="tozeroy", fillcolor="#2B2B2B"))
    add(p, go.Scatter(x=h, y=lmid, mode="lines", line=dict(color="#B0B0B0", width=1)))
    add(p, go.Scatter(x=h, y=lhigh, mode="lines", line=dict(color="#FFFFFF", width=1)))
    add(p, go.Bar(x=hf, y=fogv, width=0.45, marker=dict(color="#FFB000", line=dict(width=0))), right=True)


draw_cloud(p_k, hours, cl_high, cl_mid, cl_low, cl_vlow, ln_high, ln_mid, fog_h, fog)
draw_cloud(pl_k, hours_l, cl_high_l, cl_mid_l, cl_low_l, cl_vlow_l, ln_high_l, ln_mid_l, fog_h_l, fog_l)

for p in (p_t, p_r, p_p, p_w, p_d, p_c, p_k, pl_t, pl_r, pl_p, pl_w, pl_d, pl_c, pl_k):
    draw_grid(p)

# --- opisy
for s, x, y, c in labels_left:
    text(s, x, y, c, size=LABEL_SIZE)
for s, x, y in labels_box:
    text(s, x, y, "#FFFFFF", bg=SKY, size=LABEL_SIZE)
for color, pts in leaders:
    path = "M " + " L ".join(f"{px(x):.5f} {py(y):.5f}" for x, y in pts)
    shapes.append(dict(type="path", path=path, xref="paper", yref="paper", line=dict(color=color, width=1), layer="above"))
for y, width in frame_edges:
    shapes.append(dict(type="line", xref="paper", yref="paper", x0=px(MX[0]), x1=px(MX[1]), y0=py(y), y1=py(y),
                       line=dict(color="#777777", width=width), layer="above"))

for s, x, y in axis_titles:
    text(s, x, y, NAVY, anchor="center", angle=-90, size=13)

text("wschód słońca: 05:43 CEST", 279, 8, NAVY)
text("zachód słońca: 19:21 CEST", 279, 21, NAVY)
text("21°43'31\"E, 53°59'46\"N", 551, 8, NAVY, anchor="center")
text("(x=261,  y=355)", 551, 21, NAVY, anchor="center")
text("wysokość (min, środek, max)", 738, 8, NAVY, anchor="center")
text("121 - 141 - 157 m", 738, 21, NAVY, anchor="center")
text("CEST", 319, 50, anchor="center", size=13)
text("CEST", 781, 50, anchor="center", size=13)
text("wto, 02.09", 462, 37, anchor="center")
text("śro, 03.09", 631, 37, anchor="center")
text("UTC", 318, 612, anchor="center", size=13)
text("UTC", 782, 612, anchor="center", size=13)
text("02.09", 462, 625, anchor="center", size=13)
text("03.09", 631, 625, anchor="center", size=13)
text("meteo@icm.edu.pl", 354, 648, NAVY, anchor="center", size=13)
text("© 2007-2025 ICM, Uniwersytet Warszawski", 680, 648, NAVY, anchor="center", size=13)
text("* powyżej poziomu morza", 5, 648, size=9)
for dx in (0, 509):
    text("W", 289 + dx, 415, NAVY, anchor="center", size=13)
    text("N", 298 + dx, 407, NAVY, anchor="center", size=12, angle=-90)
    text("S", 298 + dx, 423, NAVY, anchor="center", size=12, angle=-90)
    text("E", 305 + dx, 416, NAVY, anchor="center", size=12, angle=-90)

fig.update_layout(
    width=W, height=H, margin=dict(l=0, r=0, t=0, b=0, autoexpand=False),
    paper_bgcolor="#FFFFFF", plot_bgcolor="rgba(0,0,0,0)",
    barmode="overlay", showlegend=False, shapes=shapes, annotations=annots,
    font=dict(family=FONT, size=12),
    **layout_axes,
)

fig.write_html("out.html", config=dict(displayModeBar=False),
               post_script="document.body.style.margin='0';")
